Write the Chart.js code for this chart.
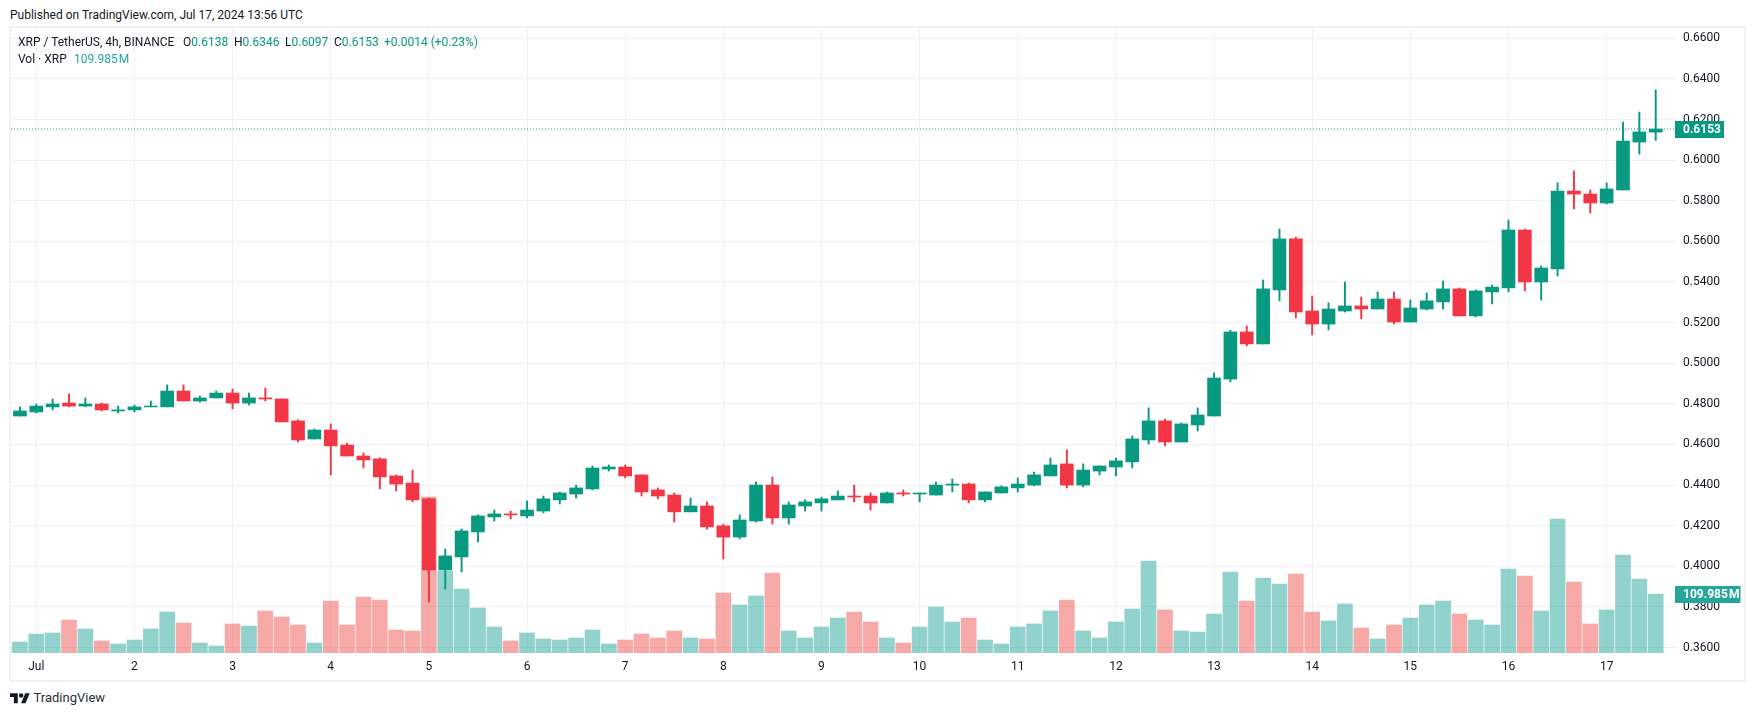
<!DOCTYPE html>
<html>
<head>
<meta charset="utf-8">
<title>XRP / TetherUS</title>
<script src="https://cdn.jsdelivr.net/npm/chart.js@4"></script>
<style>
    html, body { margin: 0; padding: 0; background: #fff; }
    body { width: 1755px; height: 716px; position: relative; overflow: hidden; font-family: Roboto, sans-serif; color: #131722; }
    #pane { position: absolute; left: 9px; top: 26px; width: 1737px; height: 656px; box-sizing: border-box; border: 2px solid #f0f0f5; }
    #chart { position: absolute; left: 11px; top: 28px; }
    .txt { position: absolute; font-size: 12px; line-height: 14px; white-space: nowrap; }
    .up { color: #089981; }
    .vol { color: #26a69a; }
    #logo { position: absolute; left: 10px; top: 691px; width: 20px; height: 15.56px; }
</style>
</head>
<body>
<div class="txt" style="left:10px;top:8px">Published on TradingView.com, Jul 17, 2024 13:56 UTC</div>
<div id="pane"></div>
<canvas id="chart" width="1733" height="652"></canvas>
<div class="txt" style="left:18px;top:35px">XRP / TetherUS, 4h, BINANCE</div>
<div class="txt" style="left:183px;top:35px">O<span class="up">0.6138</span></div>
<div class="txt" style="left:234px;top:35px">H<span class="up">0.6346</span></div>
<div class="txt" style="left:285px;top:35px">L<span class="up">0.6097</span></div>
<div class="txt" style="left:334px;top:35px">C<span class="up">0.6153</span></div>
<div class="txt up" style="left:384px;top:35px">+0.0014 (+0.23%)</div>
<div class="txt" style="left:18px;top:52px">Vol · XRP</div>
<div class="txt vol" style="left:74px;top:52px">109.985&#8202;M</div>
<svg id="logo" viewBox="0 0 36 28"><path fill="#131722" d="M14 22H7V11H0V4h14v18zM28 22h-8l7.5-18h8L28 22z"/><circle fill="#131722" cx="20" cy="8" r="4"/></svg>
<div class="txt" style="left:33.5px;top:691px;font-size:13px;color:#2a2e39;">TradingView</div>
<script>
// Day labels under the chart, one every 6 candles (4h bars)
const dayLabels = ['Jul', '2', '3', '4', '5', '6', '7', '8', '9', '10', '11', '12', '13', '14', '15', '16', '17'];
const priceStep = 0.02;

// OHLC, first candle is Jun 30 20:00
const opens = [
    0.4740, 0.4760, 0.4785, 0.4804, 0.4789, 0.4799, 0.4765, 0.4770, 0.4785, 0.4785, 0.4863, 0.4814, 0.4829,
    0.4853, 0.4804, 0.4829, 0.4824, 0.4716, 0.4627, 0.4671, 0.4597, 0.4543, 0.4529, 0.4445, 0.4410,
    0.4332, 0.3982, 0.4046, 0.4169, 0.4243, 0.4258, 0.4248, 0.4272, 0.4327, 0.4356, 0.4381,
    0.4479, 0.4489, 0.4450, 0.4376, 0.4351, 0.4268, 0.4297, 0.4199, 0.4144, 0.4223, 0.4400, 0.4238,
    0.4297, 0.4312, 0.4327, 0.4346, 0.4346, 0.4312, 0.4361, 0.4356, 0.4351, 0.4400, 0.4405, 0.4327,
    0.4361, 0.4386, 0.4400, 0.4445, 0.4504, 0.4400, 0.4469, 0.4489, 0.4514, 0.4622, 0.4716, 0.4612,
    0.4696, 0.4740, 0.4922, 0.5154, 0.5095, 0.5361, 0.5612, 0.5257, 0.5193, 0.5257, 0.5282, 0.5267, 0.5316,
    0.5203, 0.5267, 0.5302, 0.5366, 0.5233, 0.5351, 0.5371, 0.5656, 0.5400, 0.5464, 0.5848, 0.5833,
    0.5789, 0.5853, 0.6089, 0.6138
];
const highs = [
    0.4785, 0.4799, 0.4824, 0.4849, 0.4829, 0.4804, 0.4789, 0.4794, 0.4814, 0.4893, 0.4893, 0.4839, 0.4863,
    0.4873, 0.4853, 0.4878, 0.4824, 0.4721, 0.4676, 0.4701, 0.4607, 0.4558, 0.4534, 0.4450, 0.4474,
    0.4336, 0.4085, 0.4184, 0.4253, 0.4277, 0.4272, 0.4322, 0.4346, 0.4366, 0.4400, 0.4494,
    0.4499, 0.4499, 0.4450, 0.4386, 0.4361, 0.4336, 0.4317, 0.4208, 0.4253, 0.4415, 0.4440, 0.4317,
    0.4327, 0.4341, 0.4371, 0.4400, 0.4361, 0.4366, 0.4376, 0.4361, 0.4415, 0.4430, 0.4410, 0.4366,
    0.4396, 0.4435, 0.4464, 0.4533, 0.4573, 0.4504, 0.4494, 0.4533, 0.4642, 0.4780, 0.4725, 0.4706,
    0.4780, 0.4952, 0.5163, 0.5183, 0.5410, 0.5661, 0.5621, 0.5331, 0.5297, 0.5400, 0.5326, 0.5351, 0.5351,
    0.5311, 0.5346, 0.5405, 0.5371, 0.5361, 0.5385, 0.5705, 0.5661, 0.5479, 0.5888, 0.5947, 0.5853,
    0.5888, 0.6188, 0.6237, 0.6346
];
const lows = [
    0.4740, 0.4755, 0.4770, 0.4785, 0.4785, 0.4765, 0.4755, 0.4760, 0.4785, 0.4785, 0.4814, 0.4809, 0.4829,
    0.4775, 0.4794, 0.4814, 0.4711, 0.4612, 0.4627, 0.4450, 0.4543, 0.4484, 0.4381, 0.4371, 0.4317,
    0.3824, 0.3888, 0.3972, 0.4120, 0.4223, 0.4233, 0.4238, 0.4263, 0.4307, 0.4336, 0.4376,
    0.4469, 0.4435, 0.4346, 0.4332, 0.4218, 0.4268, 0.4184, 0.4036, 0.4135, 0.4218, 0.4208, 0.4208,
    0.4272, 0.4272, 0.4327, 0.4317, 0.4277, 0.4312, 0.4346, 0.4317, 0.4351, 0.4366, 0.4312, 0.4317,
    0.4361, 0.4366, 0.4396, 0.4445, 0.4386, 0.4391, 0.4450, 0.4445, 0.4484, 0.4602, 0.4593, 0.4612,
    0.4666, 0.4740, 0.4908, 0.5085, 0.5095, 0.5307, 0.5223, 0.5139, 0.5164, 0.5252, 0.5218, 0.5267, 0.5193,
    0.5203, 0.5262, 0.5267, 0.5233, 0.5228, 0.5292, 0.5351, 0.5356, 0.5311, 0.5430, 0.5760, 0.5740,
    0.5784, 0.5853, 0.6030, 0.6097
];
const closes = [
    0.4765, 0.4789, 0.4799, 0.4789, 0.4799, 0.4770, 0.4770, 0.4785, 0.4789, 0.4863, 0.4814, 0.4829, 0.4853,
    0.4804, 0.4829, 0.4824, 0.4711, 0.4622, 0.4671, 0.4593, 0.4543, 0.4524, 0.4440, 0.4405, 0.4327,
    0.3982, 0.4051, 0.4174, 0.4248, 0.4258, 0.4253, 0.4277, 0.4332, 0.4361, 0.4386, 0.4484,
    0.4489, 0.4445, 0.4366, 0.4346, 0.4268, 0.4297, 0.4194, 0.4144, 0.4228, 0.4400, 0.4238, 0.4302,
    0.4317, 0.4332, 0.4346, 0.4341, 0.4312, 0.4361, 0.4356, 0.4361, 0.4400, 0.4405, 0.4327, 0.4366,
    0.4391, 0.4405, 0.4450, 0.4499, 0.4400, 0.4474, 0.4494, 0.4519, 0.4627, 0.4716, 0.4612, 0.4701,
    0.4745, 0.4927, 0.5154, 0.5095, 0.5366, 0.5612, 0.5252, 0.5193, 0.5267, 0.5282, 0.5267, 0.5316, 0.5203,
    0.5272, 0.5307, 0.5366, 0.5233, 0.5356, 0.5375, 0.5656, 0.5400, 0.5469, 0.5848, 0.5833, 0.5789,
    0.5858, 0.6094, 0.6139, 0.6153
];
// Volume in millions, starts one bar earlier (cut off at the left edge)
const volumes = [
    13, 20.5, 35.4, 37.3, 61.5, 44.7, 22.4, 16.8, 24.2, 44.7, 76.4, 55.9, 18.6,
    13, 54.1, 50.3, 78.3, 67.1, 52.2, 18.6, 96.9, 52.2, 104.4, 98.8, 42.9,
    41, 290.8, 152.9, 119.3, 83.9, 48.5, 22.4, 37.3, 26.1, 24.2, 28, 42.9,
    16.8, 24.2, 35.4, 28, 41, 28, 26.1, 111.9, 89.5, 106.3, 149.1, 41,
    28, 48.5, 65.2, 76.4, 57.8, 28, 18.6, 48.5, 85.8, 57.8, 65.2, 24.2,
    16.8, 48.5, 54.1, 78.3, 98.8, 41, 28, 57.8, 82, 171.5, 80.2, 41,
    39.1, 72.7, 151, 96.9, 139.8, 128.6, 147.3, 76.4, 59.7, 91.3, 46.6, 26.1, 52.2,
    65.2, 89.5, 96.9, 72.7, 61.5, 52.2, 156.6, 143.5, 78.3, 249.8, 132.4, 54.1,
    80.2, 182.7, 138, 109.985
];
const lastClose = 0.6153;
const lastVolume = 109.985;

const upColor = '#089981';
const downColor = '#f23645';
const volUpColor = 'rgba(38, 166, 154, 0.5)';
const volDownColor = 'rgba(239, 83, 80, 0.5)';
const gridColor = '#f0f1f5';
const tickFont = { family: 'Roboto, sans-serif', size: 12 };

// Jul 1 00:00 is slot 0, the first candle sits one slot before it
const firstCandle = -1;
const slotMin = -1.547;
const slotMax = 100.18;
const isUp = i => closes[i] >= opens[i];
const candleColors = opens.map((o, i) => isUp(i) ? upColor : downColor);
const volumeColors = volumes.map((v, i) => (i === 0 || isUp(i - 1)) ? volUpColor : volDownColor);

// Boxes on the price scale for the last price and last volume
const lastValueBoxes = {
    id: 'lastValueBoxes',
    afterDraw(chart) {
        const ctx = chart.ctx;
        const left = chart.chartArea.right;
        const drawBox = (y, width, color, text) => {
            ctx.save();
            ctx.fillStyle = color;
            ctx.fillRect(left, Math.round(y) - 8, width, 17);
            ctx.fillStyle = '#fff';
            ctx.font = 'bold 12px Roboto, sans-serif';
            ctx.textBaseline = 'middle';
            ctx.textAlign = 'left';
            ctx.fillText(text, left + 8, Math.round(y) + 0.5);
            ctx.restore();
        };
        drawBox(chart.scales.y.getPixelForValue(lastClose), 49, upColor, lastClose.toFixed(4));
        drawBox(chart.scales.yVol.getPixelForValue(lastVolume), 65.5, '#26a69a', lastVolume.toFixed(3) + '\u200aM');
    }
};

// Chart.js keeps room for half a tick label at the ends, the plot here runs to the edges
const noEndPadding = scale => {
    scale.paddingTop = 0;
    scale.paddingBottom = 0;
    scale.paddingLeft = 0;
    scale.paddingRight = 0;
};

new Chart(document.getElementById('chart').getContext('2d'), {
    type: 'bar',
    data: {
        datasets: [
            {
                type: 'line',
                data: [{ x: slotMin, y: lastClose }, { x: slotMax, y: lastClose }],
                borderColor: upColor,
                borderWidth: 1,
                borderDash: [1, 2],
                pointRadius: 0,
                yAxisID: 'y',
                order: 0
            },
            {
                data: opens.map((o, i) => ({ x: firstCandle + i, y: [o, closes[i]] })),
                backgroundColor: candleColors,
                barThickness: 13,
                grouped: false,
                yAxisID: 'y',
                order: 1
            },
            {
                data: highs.map((h, i) => ({ x: firstCandle + i, y: [lows[i], h] })),
                backgroundColor: candleColors,
                barThickness: 1.3,
                grouped: false,
                yAxisID: 'y',
                order: 2
            },
            {
                data: volumes.map((v, i) => ({ x: firstCandle - 1 + i, y: v })),
                backgroundColor: volumeColors,
                barThickness: 15,
                grouped: false,
                yAxisID: 'yVol',
                order: 3
            }
        ]
    },
    options: {
        responsive: false,
        animation: false,
        events: [],
        layout: { padding: 0 },
        plugins: { legend: { display: false }, tooltip: { enabled: false } },
        scales: {
            x: {
                type: 'linear',
                offset: false,
                min: slotMin,
                max: slotMax,
                border: { display: false },
                grid: { offset: false, color: gridColor, drawTicks: false },
                afterFit: scale => { scale.height = 27; noEndPadding(scale); },
                ticks: {
                    stepSize: 6,
                    includeBounds: false,
                    autoSkip: false,
                    maxRotation: 0,
                    padding: 7,
                    color: '#131722',
                    font: tickFont,
                    callback: v => dayLabels[v / 6]
                }
            },
            y: {
                type: 'linear',
                position: 'right',
                min: 0.3573,
                max: 0.66507,
                border: { display: false },
                grid: { color: gridColor, drawTicks: false },
                afterFit: scale => { scale.width = 69; noEndPadding(scale); },
                ticks: {
                    stepSize: priceStep,
                    includeBounds: false,
                    padding: 8,
                    color: '#131722',
                    font: tickFont,
                    callback: v => v.toFixed(4)
                }
            },
            yVol: {
                type: 'linear',
                display: false,
                min: 0,
                max: 1165.2
            }
        }
    },
    plugins: [lastValueBoxes]
});
</script>
</body>
</html>
